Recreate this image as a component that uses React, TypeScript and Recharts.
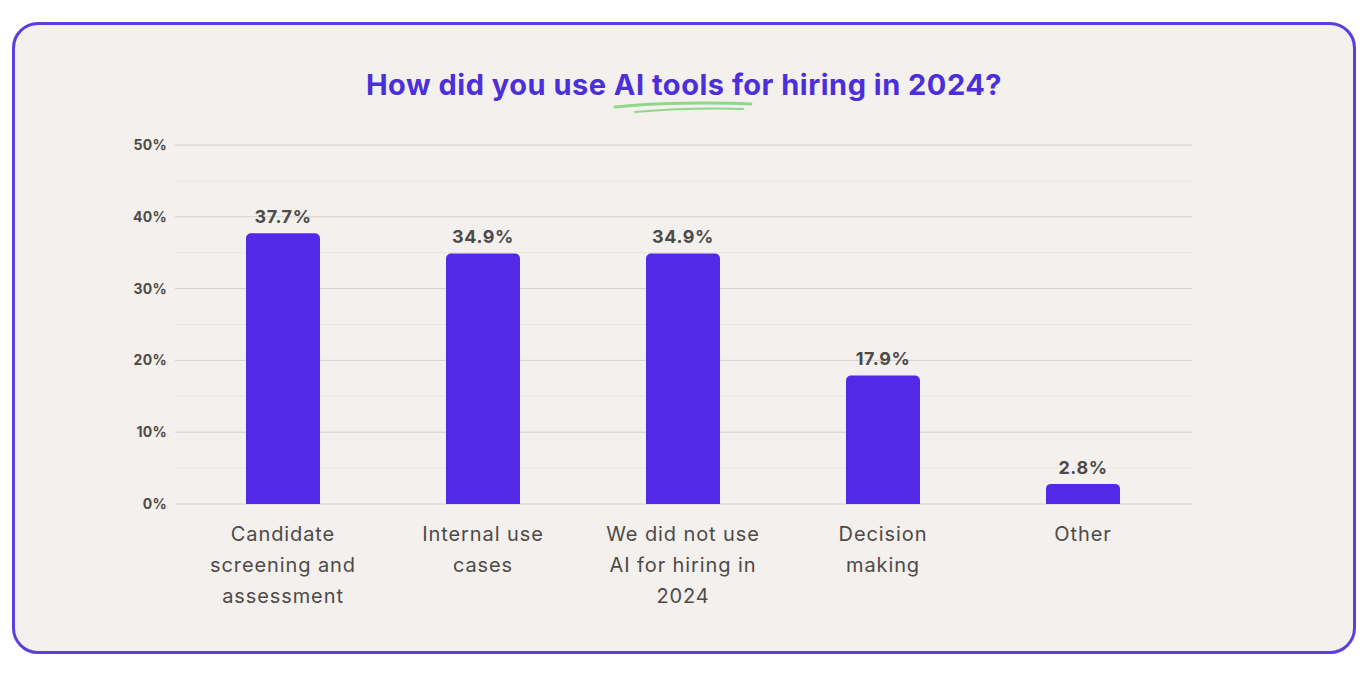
import React from "react";
import {
  Bar,
  BarChart,
  CartesianGrid,
  LabelList,
  XAxis,
  YAxis,
} from "recharts";

const categories = [
  "Candidate screening and assessment",
  "Internal use cases",
  "We did not use AI for hiring in 2024",
  "Decision making",
  "Other",
];

const categoryLines = [
  ["Candidate", "screening and", "assessment"],
  ["Internal use", "cases"],
  ["We did not use", "AI for hiring in", "2024"],
  ["Decision", "making"],
  ["Other"],
];

const shares = [37.7, 34.9, 34.9, 17.9, 2.8];

const majorTicks = [0, 10, 20, 30, 40, 50];
const minorTicks = [5, 15, 25, 35, 45];

const data = categories.map((name, i) => ({
  name,
  lines: categoryLines[i],
  value: shares[i],
}));

const FONT = "Inter, 'Open Sans', sans-serif";
const TEXT = "#4d4a48";
const PURPLE = "#5229e6";

function XTick(props: any) {
  const { x, y, index } = props;
  const lines = categoryLines[index] || [];
  return (
    <text
      x={x}
      y={y}
      textAnchor="middle"
      fill={TEXT}
      fontSize={20}
      letterSpacing={0.9}
      fontFamily={FONT}
    >
      {lines.map((line, i) => (
        <tspan key={i} x={x} dy={i === 0 ? 29 : 31}>
          {line}
        </tspan>
      ))}
    </text>
  );
}

function YTick(props: any) {
  const { x, y, payload } = props;
  return (
    <text
      x={x}
      y={y}
      dy={5}
      textAnchor="end"
      fill={TEXT}
      fontSize={14}
      fontWeight={700}
      letterSpacing={0.3}
      fontFamily={FONT}
    >
      {payload.value}%
    </text>
  );
}

export default function App() {
  return (
    <div
      style={{
        position: "relative",
        marginLeft: 4,
        marginTop: 14,
        width: 1338,
        height: 626,
        border: "3px solid #5a3fdc",
        borderRadius: 26,
        background: "#f3f0ed",
      }}
    >
      <div
        style={{
          position: "absolute",
          left: 0,
          right: 0,
          top: 42,
          textAlign: "center",
          fontFamily: FONT,
          fontWeight: 700,
          fontSize: 29,
          color: "#4b2fd8",
          letterSpacing: 0.5,
        }}
      >
        How did you use AI tools for hiring in 2024?
      </div>
      <svg
        width={160}
        height={20}
        style={{ position: "absolute", left: 596, top: 73 }}
      >
        <path
          d="M4 9 C40 5, 100 4, 140 6"
          stroke="#8ed88a"
          strokeWidth={3}
          fill="none"
          strokeLinecap="round"
        />
        <path
          d="M24 14 C60 11, 100 10, 132 11"
          stroke="#8ed88a"
          strokeWidth={2}
          fill="none"
          strokeLinecap="round"
        />
      </svg>
      <div style={{ position: "absolute", left: 0, top: 0 }}>
        <BarChart
          width={1338}
          height={626}
          data={data}
          margin={{ top: 120, right: 161, left: 0, bottom: 0 }}
          barSize={74}
        >
          <CartesianGrid
            vertical={false}
            horizontalValues={minorTicks}
            stroke="#e9e6e2"
            strokeWidth={1}
          />
          <CartesianGrid
            vertical={false}
            horizontalValues={majorTicks}
            stroke="#d4d1cd"
            strokeWidth={1}
          />
          <XAxis
            dataKey="name"
            height={147}
            axisLine={false}
            tickLine={false}
            interval={0}
            padding={{ left: 8, right: 9 }}
            tick={<XTick />}
          />
          <YAxis
            width={160}
            domain={[0, 50]}
            ticks={majorTicks}
            axisLine={false}
            tickLine={false}
            tickSize={0}
            tickMargin={8}
            tick={<YTick />}
          />
          <Bar
            dataKey="value"
            fill={PURPLE}
            radius={[5, 5, 0, 0]}
            isAnimationActive={false}
          >
            <LabelList
              dataKey="value"
              position="top"
              offset={10}
              formatter={(v: any) => `${v}%`}
              fill={TEXT}
              fontSize={18}
              fontWeight={700}
              letterSpacing={0.6}
              fontFamily={FONT}
            />
          </Bar>
        </BarChart>
      </div>
    </div>
  );
}
